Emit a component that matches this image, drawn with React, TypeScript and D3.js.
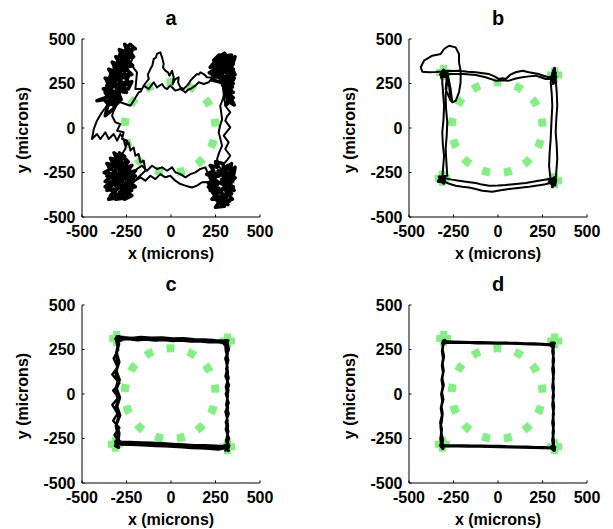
import React from "react";
import * as d3 from "d3";

type P = [number, number];

// ---------- axis / labels ----------
const DOMAIN: [number, number] = [-500, 500];
const TICKS = [-500, -250, 0, 250, 500];
const PANEL_LABELS = ["a", "b", "c", "d"];
const X_LABEL = "x (microns)";
const Y_LABEL = "y (microns)";

// ---------- target pattern (green) ----------
const TARGET_CORNERS: P[] = [[-305, 312], [318, 298], [-313, -282], [318, -296]];
const TARGET_CIRCLE = { cx: -5, cy: 2, r: 255 };

// ---------- panel a : trajectory pieces (microns) ----------
const aTLBlob: P[] = [
  [-330, 160], [-300, 200], [-350, 210], [-310, 250], [-360, 240], [-320, 290], [-290, 260], [-330, 320],
  [-280, 300], [-300, 350], [-250, 330], [-290, 380], [-240, 370], [-270, 420], [-230, 400], [-250, 450],
  [-220, 430], [-260, 470], [-240, 410], [-280, 400], [-250, 360], [-300, 370], [-260, 320], [-320, 340],
  [-280, 280], [-340, 300], [-300, 230], [-360, 260], [-320, 190], [-370, 200], [-340, 150], [-300, 170],
  [-320, 120], [-280, 160], [-300, 210], [-250, 200], [-290, 250], [-240, 260], [-270, 300], [-220, 300],
  [-260, 340], [-215, 350], [-250, 390], [-210, 400], [-240, 440], [-200, 445], [-230, 470], [-260, 430],
  [-290, 440], [-270, 390], [-310, 400], [-280, 350], [-330, 370], [-300, 310], [-350, 330], [-310, 270],
  [-370, 280], [-330, 230], [-380, 220], [-340, 180], [-416, 153], [-375, 160], [-350, 130], [-310, 140],
  [-330, 180], [-290, 190], [-310, 230], [-260, 230], [-290, 280], [-240, 290], [-260, 240], [-220, 260],
  [-240, 220], [-290, 215], [-335, 255], [-295, 300], [-345, 285], [-305, 330], [-260, 365], [-300, 395],
  [-255, 410], [-285, 420], [-369, 69], [-320, 110], [-300, 150],
];
const aTRBlob: P[] = [
  [300, 280], [340, 320], [290, 340], [350, 360], [300, 380], [340, 410], [280, 400], [320, 360],
  [260, 370], [300, 330], [240, 330], [280, 300], [230, 300], [270, 350], [220, 340], [260, 390],
  [300, 420], [330, 380], [360, 400], [340, 340], [360, 300], [320, 290], [350, 250], [300, 250],
  [340, 210], [310, 200], [350, 170], [320, 150], [355, 130], [330, 180], [300, 220], [345, 230],
  [310, 270], [355, 280], [330, 320], [280, 320], [310, 370], [250, 350], [290, 390], [240, 380],
  [270, 410], [320, 400], [345, 380], [300, 350], [350, 330], [310, 310], [350, 270], [300, 290],
  [260, 300], [290, 260], [340, 260], [310, 230], [350, 200], [300, 180], [340, 160], [310, 130],
  [330, 200], [290, 240], [330, 290], [280, 350], [215, 310], [250, 300], [230, 270], [270, 260],
  [320, 240], [285, 305], [335, 345], [275, 375], [325, 395], [295, 360], [345, 310],
];
const aBLBlob: P[] = [
  [-300, -200], [-260, -160], [-290, -140], [-240, -190], [-280, -230], [-220, -210], [-260, -260], [-200, -240],
  [-250, -290], [-210, -300], [-270, -320], [-220, -350], [-290, -360], [-240, -390], [-310, -400], [-280, -370],
  [-340, -380], [-300, -340], [-360, -350], [-320, -310], [-370, -300], [-330, -270], [-375, -250], [-340, -230],
  [-360, -200], [-320, -210], [-340, -170], [-300, -180], [-320, -140], [-280, -170], [-300, -230], [-250, -220],
  [-290, -270], [-240, -260], [-280, -300], [-230, -320], [-270, -350], [-220, -380], [-260, -400], [-300, -380],
  [-330, -350], [-280, -330], [-350, -310], [-300, -290], [-360, -270], [-310, -250], [-350, -220], [-300, -210],
  [-330, -190], [-270, -200], [-230, -240], [-270, -250], [-200, -270], [-240, -300], [-200, -330], [-250, -340],
  [-230, -360], [-290, -390], [-350, -400], [-320, -360], [-370, -330], [-330, -300], [-280, -280], [-320, -240],
  [-260, -190], [-310, -285], [-255, -310], [-345, -255], [-295, -315], [-240, -350], [-285, -345],
];
const aBRBlob: P[] = [
  [280, -250], [320, -210], [300, -270], [350, -240], [320, -290], [360, -280], [310, -320], [350, -330],
  [290, -340], [340, -370], [280, -380], [330, -410], [270, -420], [300, -440], [250, -445], [280, -400],
  [230, -400], [270, -360], [220, -350], [260, -320], [210, -310], [250, -280], [200, -260], [240, -240],
  [220, -210], [260, -220], [250, -190], [290, -200], [300, -230], [340, -200], [330, -250], [360, -220],
  [345, -300], [300, -300], [355, -350], [310, -360], [345, -400], [300, -410], [320, -430], [280, -430],
  [290, -390], [250, -390], [270, -340], [230, -330], [260, -300], [220, -280], [270, -270], [230, -250],
  [290, -260], [320, -260], [340, -330], [300, -380], [260, -410], [240, -370], [210, -330], [240, -300],
  [280, -310], [330, -340], [310, -390], [280, -360], [320, -300], [265, -240], [305, -250], [335, -280],
  [285, -290], [325, -370], [265, -390],
];
const aTopRoute1: P[] = [
  [-191, 313], [-200, 219], [-163, 219], [-145, 250], [-125, 275], [-130, 300], [-116, 331], [-105, 350],
  [-97, 388], [-85, 395], [-79, 416], [-60, 425], [-55, 410], [-50, 397], [-41, 360], [-45, 340], [-32, 322],
  [-17, 313], [-9, 294], [6, 322], [15, 285], [9, 247], [24, 275], [43, 285], [40, 255], [53, 228], [71, 219],
  [90, 238], [100, 250], [109, 266], [127, 285], [146, 303], [155, 300], [165, 313], [184, 303], [202, 285],
];
const aTopRoute2: P[] = [
  [-228, 125], [-210, 153], [-182, 200], [-170, 205], [-153, 238], [-125, 219], [-110, 240], [-97, 257],
  [-79, 228], [-50, 247], [-35, 225], [-22, 219], [-4, 238], [10, 225], [24, 210], [53, 219], [81, 200],
  [95, 215], [109, 219], [137, 238], [156, 257], [184, 247], [212, 257],
];
const aRightSide1: P[] = [
  [305, 125], [333, 88], [315, 65], [305, 41], [333, 4], [296, -43], [324, -81], [305, -118], [333, -156],
  [315, -180], [296, -202],
];
const aRightSide2: P[] = [
  [277, 125], [287, 50], [275, 10], [268, -24], [287, -99], [270, -140], [259, -174], [268, -212],
];
const aBottomRoute1: P[] = [
  [-191, -230], [-163, -212], [-135, -240], [-107, -212], [-79, -230], [-50, -221], [-22, -240], [6, -221],
  [24, -249], [53, -259], [81, -277], [109, -259], [137, -249], [165, -230], [193, -221],
];
const aBottomRoute2: P[] = [
  [-200, -296], [-172, -277], [-144, -296], [-116, -268], [-88, -287], [-60, -259], [-32, -277], [-4, -268],
  [24, -296], [53, -315], [81, -324], [118, -334], [146, -324], [174, -305],
];
const aLeftRoute1: P[] = [
  [-360, 125], [-388, 88], [-416, 41], [-434, -6], [-444, -62], [-416, -34], [-397, -62], [-369, -24],
  [-350, -62], [-322, -34], [-303, -71], [-285, -34], [-266, -62], [-257, -99], [-238, -81], [-228, -127],
  [-210, -109], [-200, -156], [-182, -146], [-172, -193], [-153, -184], [-144, -240],
];
const aLeftRoute2: P[] = [
  [-313, 125], [-331, 69], [-313, 32], [-285, 22], [-303, -15], [-266, -24], [-275, -62], [-247, -71],
  [-257, -118], [-275, -146],
];

// ---------- panel b ----------
const bLoop: P[] = [
  [-313, 318], [-350, 314], [-388, 313], [-425, 316], [-434, 341], [-416, 378], [-369, 406], [-322, 416],
  [-303, 444], [-275, 462], [-238, 453], [-219, 416], [-219, 369], [-210, 322], [-210, 257], [-219, 200],
  [-238, 153], [-257, 144], [-266, 219], [-285, 313], [-294, 219], [-266, 153], [-275, 238], [-300, 310],
];
const bTop1: P[] = [
  [-313, 322], [-270, 320], [-219, 322], [-170, 316], [-125, 313], [-85, 308], [-50, 303], [-20, 290],
  [6, 275], [25, 280], [43, 275], [70, 300], [99, 313], [137, 322], [174, 313], [205, 308], [230, 303],
  [260, 292], [287, 285], [315, 294],
];
const bTop2: P[] = [
  [-294, 303], [-210, 305], [-125, 298], [-70, 285], [-13, 266], [20, 268], [62, 266], [100, 278],
  [137, 285], [175, 290], [212, 294], [240, 285], [268, 275], [305, 275],
];
const bTLBlob: P[] = [
  [-313, 313], [-300, 290], [-322, 300], [-305, 325], [-318, 285], [-295, 305], [-310, 320],
];
const bTRBlob: P[] = [
  [305, 300], [318, 335], [300, 280], [322, 310], [310, 250], [325, 290], [305, 270], [318, 320], [312, 285],
];
const bRight1: P[] = [
  [324, 275], [330, 200], [333, 125], [328, 60], [324, -24], [330, -100], [333, -174], [328, -240], [324, -287],
];
const bRight2: P[] = [
  [296, 257], [302, 190], [305, 125], [300, 30], [296, -62], [290, -140], [287, -212], [292, -260], [296, -287],
];
const bBRBlob: P[] = [
  [300, -290], [320, -320], [295, -310], [325, -295], [305, -330], [315, -280], [290, -300], [322, -310], [305, -300],
];
const bBottom1: P[] = [
  [305, -305], [260, -318], [212, -324], [175, -330], [137, -334], [100, -338], [62, -343], [15, -350],
  [-32, -358], [-60, -355], [-88, -352], [-125, -343], [-163, -334], [-200, -330], [-238, -324], [-270, -315], [-294, -305],
];
const bBottom2: P[] = [
  [287, -287], [220, -298], [156, -309], [100, -314], [43, -320], [0, -323], [-50, -324], [-90, -318],
  [-125, -309], [-170, -303], [-219, -296], [-260, -290], [-294, -283],
];
const bBLBlob: P[] = [
  [-315, -270], [-335, -300], [-310, -295], [-330, -275], [-305, -310], [-325, -290], [-300, -280], [-320, -305],
];
const bLeft1: P[] = [
  [-313, -287], [-308, -220], [-303, -156], [-310, -90], [-313, -24], [-306, 50], [-303, 125], [-308, 190],
  [-313, 257], [-313, 313],
];
const bLeft2: P[] = [
  [-285, -268], [-290, -190], [-294, -118], [-288, -40], [-285, 32], [-292, 110], [-294, 182], [-288, 240], [-285, 294],
];

// ---------- panel c ----------
const cLap1: P[] = [
  [-300, 315], [-250, 318], [-200, 312], [-150, 316], [-100, 310], [-50, 312], [0, 306], [50, 308], [100, 302],
  [150, 304], [200, 298], [250, 300], [300, 292], [310, 295], [315, 270],
  [318, 220], [312, 170], [320, 120], [316, 70], [322, 20], [315, -30], [320, -80], [314, -130], [320, -180],
  [316, -230], [322, -280], [315, -305],
  [270, -302], [220, -300], [170, -296], [120, -294], [70, -290], [20, -288], [-30, -284], [-80, -282],
  [-130, -280], [-180, -278], [-230, -276], [-280, -272], [-305, -280],
  [-300, -230], [-310, -180], [-296, -130], [-312, -80], [-298, -30], [-314, 20], [-300, 70], [-312, 120],
  [-298, 170], [-310, 220], [-300, 270], [-302, 310],
];
const cLap2: P[] = [
  [-290, 305], [-240, 308], [-190, 302], [-140, 306], [-90, 300], [-40, 303], [10, 298], [60, 300], [110, 294],
  [160, 296], [210, 290], [260, 292], [305, 285],
  [308, 240], [322, 190], [310, 140], [324, 90], [308, 40], [320, -10], [310, -60], [324, -110], [308, -160],
  [322, -210], [310, -260], [318, -300], [305, -318], [325, -300],
  [265, -312], [215, -308], [165, -305], [115, -303], [65, -300], [15, -297], [-35, -294], [-85, -292],
  [-135, -290], [-185, -287], [-235, -286], [-285, -284], [-300, -270], [-315, -290], [-295, -265],
  [-318, -230], [-290, -190], [-325, -150], [-300, -110], [-330, -60], [-295, -20], [-325, 20], [-290, 60],
  [-330, 110], [-300, 150], [-322, 200], [-296, 250], [-308, 300], [-290, 318], [-305, 325],
];
const cLap3: P[] = [
  [-298, 322], [-230, 314], [-170, 320], [-110, 316], [-50, 318], [10, 312], [70, 314], [130, 308], [190, 306],
  [250, 302], [300, 300], [318, 285],
  [325, 250], [305, 200], [318, 150], [306, 100], [326, 50], [308, 0], [324, -50], [306, -100], [318, -150],
  [308, -200], [326, -250], [308, -295],
  [250, -290], [190, -288], [130, -287], [70, -283], [10, -280], [-50, -276], [-110, -274], [-170, -272],
  [-230, -270], [-295, -268],
  [-290, -220], [-305, -170], [-285, -120], [-302, -70], [-286, -20], [-304, 30], [-288, 80], [-306, 130],
  [-290, 180], [-304, 230], [-292, 280], [-300, 315],
];
const cCornerTL: P[] = [[-300, 315], [-285, 300], [-305, 300], [-290, 322], [-310, 310], [-295, 325]];
const cCornerTR: P[] = [[310, 292], [300, 280], [320, 300], [305, 300], [318, 270]];
const cCornerBR: P[] = [[315, -305], [300, -290], [322, -318], [308, -300], [325, -290], [312, -320]];
const cCornerBL: P[] = [[-305, -280], [-290, -265], [-310, -292], [-295, -300], [-312, -270], [-300, -255]];

// ---------- panel d ----------
const dLap1: P[] = [
  [-305, 295], [-250, 293], [-200, 292], [-150, 291], [-100, 290], [-50, 289], [0, 288], [50, 287], [100, 286],
  [150, 284], [200, 283], [250, 281], [300, 278], [308, 285], [300, 270], [310, 275],
  [312, 230], [308, 180], [314, 130], [309, 80], [313, 30], [308, -20], [314, -70], [309, -120], [313, -170],
  [308, -220], [313, -270], [311, -305],
  [260, -300], [210, -299], [160, -297], [110, -296], [60, -295], [10, -293], [-40, -292], [-90, -291],
  [-140, -291], [-190, -290], [-240, -290], [-290, -290], [-317, -296],
  [-310, -260], [-318, -220], [-322, -180], [-316, -146], [-312, -110], [-318, -70], [-308, -30], [-316, 10],
  [-306, 50], [-314, 90], [-306, 130], [-312, 170], [-304, 210], [-312, 250], [-306, 290],
];
const dLap2: P[] = [
  [-300, 290], [-240, 288], [-180, 289], [-120, 286], [-60, 286], [0, 284], [60, 284], [120, 282], [180, 280],
  [240, 279], [298, 274], [312, 282],
  [306, 240], [314, 190], [306, 140], [312, 90], [306, 40], [313, -10], [306, -60], [313, -110], [306, -160],
  [313, -210], [306, -260], [313, -300],
  [250, -303], [190, -302], [130, -300], [70, -299], [10, -298], [-50, -296], [-110, -295], [-170, -294],
  [-230, -293], [-290, -293], [-318, -290],
  [-322, -250], [-316, -200], [-324, -160], [-314, -120], [-320, -80], [-312, -40], [-318, 0], [-310, 40],
  [-316, 80], [-308, 120], [-314, 160], [-308, 200], [-314, 240], [-308, 280], [-302, 296],
];
const dCornerTL: P[] = [[-305, 295], [-295, 290], [-310, 285], [-300, 300], [-312, 292]];
const dCornerTR: P[] = [[305, 278], [312, 268], [300, 285], [315, 285], [302, 270], [312, 278]];
const dCornerBR: P[] = [[311, -305], [300, -300], [316, -315], [305, -295], [318, -300], [308, -312]];
const dCornerBL: P[] = [[-317, -296], [-305, -290], [-322, -288], [-310, -305], [-318, -280]];

const rev = (a: P[]): P[] => a.slice().reverse();
const halves = (a: P[]): [P[], P[]] => {
  const m = Math.ceil(a.length / 2);
  return [a.slice(0, m), a.slice(m)];
};

const [tlA, tlB] = halves(aTLBlob);
const [trA, trB] = halves(aTRBlob);
const [brA, brB] = halves(aBRBlob);
const [blA, blB] = halves(aBLBlob);

const trajA: P[] = [
  ...tlA, ...aTopRoute1, ...trA, ...aRightSide1, ...brA, ...rev(aBottomRoute2), ...blA, ...rev(aLeftRoute1),
  ...tlB, ...aTopRoute2, ...trB, ...aRightSide2, ...brB, ...rev(aBottomRoute1), ...blB, ...rev(aLeftRoute2),
];
const trajB: P[] = [
  ...bTLBlob, ...bLoop, ...bTop1, ...bTRBlob, ...bRight1, ...bBRBlob, ...bBottom1, ...bBLBlob, ...bLeft1,
  ...bTop2, ...rev(bTRBlob), ...bRight2, ...rev(bBRBlob), ...bBottom2, ...rev(bBLBlob), ...bLeft2,
];
const trajC: P[] = [...cCornerTL, ...cLap1, ...cLap2, ...cLap3];
const trajD: P[] = [...dLap1, ...dLap2];

const TRAJS = [trajA, trajB, trajC, trajD];
// dense clusters where the trajectory dwells (drawn heavier)
const CLUSTERS: P[][][] = [
  [aTLBlob, aTRBlob, aBLBlob, aBRBlob],
  [bTLBlob, bTRBlob, bBRBlob, bBLBlob],
  [cCornerTL, cCornerTR, cCornerBR, cCornerBL],
  [dCornerTL, dCornerTR, dCornerBR, dCornerBL],
];

const FONT = "'Liberation Sans', Arial, Helvetica, sans-serif";

function Panel({
  x0, y0, label, traj, clusters, sw, csw,
}: { x0: number; y0: number; label: string; traj: P[]; clusters: P[][]; sw: number; csw: number }) {
  const size = 178;
  const xs = d3.scaleLinear().domain(DOMAIN).range([x0, x0 + size]);
  const ys = d3.scaleLinear().domain(DOMAIN).range([y0 + size, y0]);
  const line = d3.line<P>().x((d) => xs(d[0])).y((d) => ys(d[1]));
  const r = xs(TARGET_CIRCLE.r) - xs(0);
  const C = 2 * Math.PI * r;
  const nd = 13;
  const per = C / nd;
  const dl = 8;
  const off = dl / 2 - 0.75 * per;
  const yb = y0 + size;
  const green = "rgb(128,240,128)";
  const arm = 7.5;
  return (
    <g>
      <circle
        cx={xs(TARGET_CIRCLE.cx)}
        cy={ys(TARGET_CIRCLE.cy)}
        r={r}
        fill="none"
        stroke={green}
        strokeWidth={8}
        strokeDasharray={`${dl} ${per - dl}`}
        strokeDashoffset={off}
      />
      {TARGET_CORNERS.map((c, i) => {
        const cx = xs(c[0]);
        const cy = ys(c[1]);
        return (
          <path
            key={i}
            d={`M${cx - arm},${cy}H${cx + arm}M${cx},${cy - arm}V${cy + arm}`}
            stroke={green}
            strokeWidth={7}
            fill="none"
          />
        );
      })}
      <path d={line(traj) || ""} fill="none" stroke="#000" strokeWidth={sw} strokeLinejoin="round" />
      {clusters.map((c, i) => (
        <path key={i} d={line(c) || ""} fill="none" stroke="#000" strokeWidth={csw} strokeLinejoin="round" />
      ))}
      <line x1={x0} y1={yb} x2={x0 + size} y2={yb} stroke="#000" strokeWidth={1} />
      <line x1={x0} y1={y0} x2={x0} y2={yb} stroke="#000" strokeWidth={1} />
      {TICKS.map((t) => (
        <g key={"x" + t}>
          <line x1={xs(t)} x2={xs(t)} y1={yb} y2={yb - 2.5} stroke="#000" strokeWidth={1} />
          <text x={xs(t)} y={yb + 19.5} textAnchor="middle" fontSize={16} fontWeight="bold" fontFamily={FONT}>
            {t}
          </text>
        </g>
      ))}
      {TICKS.map((t) => (
        <g key={"y" + t}>
          <line x1={x0} x2={x0 + 2.5} y1={ys(t)} y2={ys(t)} stroke="#000" strokeWidth={1} />
          <text x={x0 - 6.5} y={ys(t) + 5.5} textAnchor="end" fontSize={16} fontWeight="bold" fontFamily={FONT}>
            {t}
          </text>
        </g>
      ))}
      <text x={x0 + size / 2} y={y0 - 14} textAnchor="middle" fontSize={20} fontWeight="bold" fontFamily={FONT}>
        {label}
      </text>
      <text x={x0 + size / 2} y={yb + 41.5} textAnchor="middle" fontSize={16} fontWeight="bold" fontFamily={FONT}>
        {X_LABEL}
      </text>
      <text
        transform={`translate(${x0 - 54.5},${y0 + size / 2 + 2}) rotate(-90)`}
        textAnchor="middle"
        fontSize={16}
        fontWeight="bold"
        fontFamily={FONT}
      >
        {Y_LABEL}
      </text>
    </g>
  );
}

const ORIGINS: [number, number][] = [[82, 39], [409, 39], [82, 305], [409, 305]];
const WIDTHS = [2, 2, 2.4, 2.6];
const CLUSTER_WIDTHS = [3.6, 3, 3.2, 3.6];

export default function App() {
  return (
    <svg width={613} height={529} style={{ position: "absolute", left: 0, top: 0, background: "#fff" }}>
      <rect width={613} height={529} fill="#fff" />
      {ORIGINS.map((o, i) => (
        <Panel
          key={i}
          x0={o[0]}
          y0={o[1]}
          label={PANEL_LABELS[i]}
          traj={TRAJS[i]}
          clusters={CLUSTERS[i]}
          sw={WIDTHS[i]}
          csw={CLUSTER_WIDTHS[i]}
        />
      ))}
    </svg>
  );
}
